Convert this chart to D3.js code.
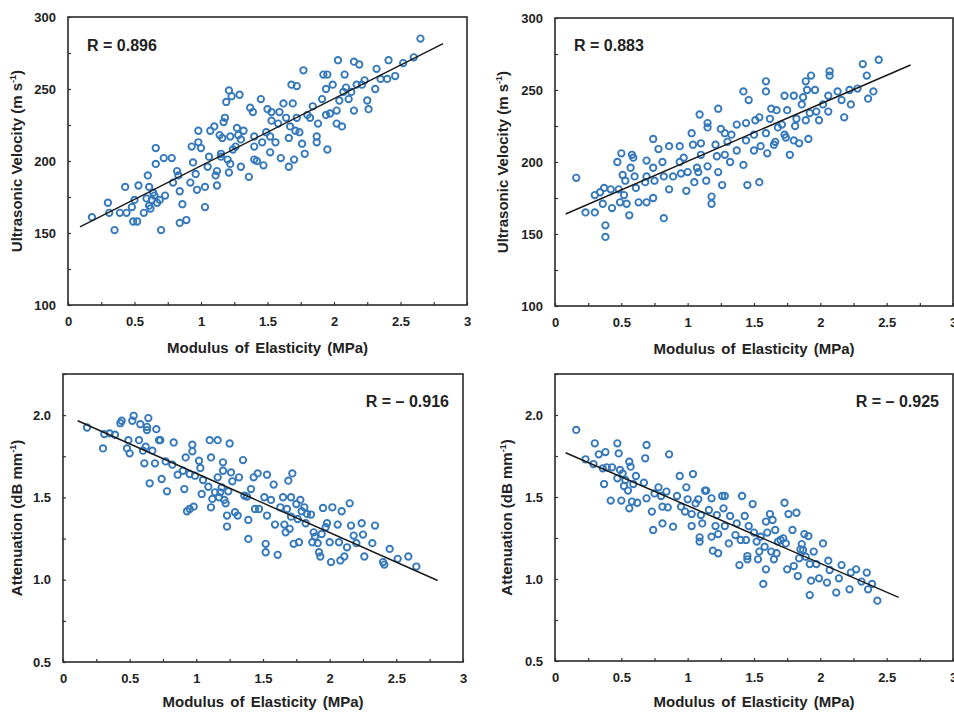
<!DOCTYPE html>
<html>
<head>
<meta charset="utf-8">
<script src="https://cdn.jsdelivr.net/npm/d3@7"></script>
<style>
body{margin:0;background:#fff}
text{font-family:"Liberation Sans",Arial,sans-serif;font-weight:bold;fill:#222}
</style>
</head>
<body>
<svg id="chart" width="954" height="712"></svg>
<script>
// tick labels
var modulusTicks=[0,0.5,1,1.5,2,2.5,3];
var velocityTicks=[100,150,200,250,300];
var attenTicks=[0.5,1.0,1.5,2.0];

// [modulus MPa, velocity m/s] - top left
var velA=[[0.18,161],[0.30,171],[0.31,164],[0.35,152],[0.39,164],[0.43,182],[0.44,164],[0.48,168],[0.49,158],[0.50,173],[0.52,158],[0.53,183],[0.57,164],[0.59,174],[0.60,190],[0.61,169],[0.61,182],[0.62,167],[0.63,173],[0.64,178],[0.65,176],[0.66,198],[0.66,209],[0.67,171],[0.69,173],[0.70,152],[0.72,202],[0.73,176],[0.78,202],[0.79,185],[0.82,193],[0.83,190],[0.84,179],[0.84,157],[0.86,170],[0.89,159],[0.92,185],[0.93,210],[0.94,199],[0.96,191],[0.97,180],[0.98,221],[0.98,213],[1.00,209],[1.03,182],[1.03,168],[1.05,196],[1.06,203],[1.07,221],[1.10,224],[1.11,190],[1.12,183],[1.12,193],[1.14,218],[1.15,205],[1.15,203],[1.16,216],[1.17,227],[1.18,230],[1.19,241],[1.20,201],[1.21,192],[1.21,249],[1.22,217],[1.22,198],[1.23,245],[1.24,208],[1.26,210],[1.27,223],[1.28,218],[1.29,246],[1.30,215],[1.30,196],[1.32,221],[1.36,189],[1.37,237],[1.39,234],[1.40,217],[1.40,210],[1.40,201],[1.42,200],[1.45,243],[1.46,213],[1.47,197],[1.49,220],[1.50,236],[1.52,206],[1.52,217],[1.53,234],[1.53,228],[1.56,213],[1.58,226],[1.59,234],[1.60,202],[1.62,240],[1.64,230],[1.66,196],[1.66,216],[1.67,224],[1.68,253],[1.69,240],[1.70,201],[1.71,221],[1.72,252],[1.72,230],[1.74,220],[1.76,212],[1.77,263],[1.78,205],[1.80,232],[1.82,230],[1.84,238],[1.87,217],[1.88,226],[1.87,213],[1.91,243],[1.92,260],[1.94,250],[1.94,232],[1.95,208],[1.95,260],[1.97,233],[1.99,253],[2.02,235],[2.02,226],[2.03,270],[2.04,242],[2.06,224],[2.07,248],[2.08,260],[2.09,251],[2.11,243],[2.13,248],[2.15,235],[2.15,269],[2.17,253],[2.19,267],[2.21,253],[2.23,256],[2.25,242],[2.26,236],[2.31,250],[2.32,264],[2.35,257],[2.40,257],[2.41,270],[2.46,259],[2.52,268],[2.60,272],[2.65,285]];

// top right
var velB=[[0.16,189],[0.23,165],[0.30,177],[0.30,165],[0.34,179],[0.36,171],[0.37,182],[0.38,156],[0.38,148],[0.42,181],[0.43,168],[0.47,200],[0.48,181],[0.49,172],[0.50,206],[0.51,191],[0.52,177],[0.53,187],[0.54,171],[0.56,163],[0.57,196],[0.58,205],[0.59,203],[0.60,190],[0.61,182],[0.63,172],[0.68,186],[0.69,201],[0.69,172],[0.69,190],[0.74,175],[0.74,216],[0.74,196],[0.75,187],[0.78,209],[0.81,200],[0.82,161],[0.82,190],[0.86,181],[0.86,211],[0.89,190],[0.94,211],[0.94,200],[0.95,192],[0.97,203],[0.99,180],[1.00,193],[1.03,220],[1.04,212],[1.05,186],[1.07,196],[1.08,193],[1.09,233],[1.10,213],[1.10,205],[1.14,187],[1.15,227],[1.15,224],[1.15,197],[1.18,176],[1.18,171],[1.21,212],[1.22,204],[1.23,193],[1.23,237],[1.25,223],[1.26,184],[1.28,220],[1.28,205],[1.30,214],[1.32,200],[1.33,219],[1.37,208],[1.37,226],[1.42,249],[1.42,198],[1.44,227],[1.44,215],[1.45,184],[1.46,243],[1.50,208],[1.50,219],[1.51,229],[1.54,231],[1.54,186],[1.55,211],[1.59,256],[1.59,220],[1.59,249],[1.60,206],[1.62,230],[1.63,237],[1.65,212],[1.66,214],[1.67,236],[1.68,224],[1.71,226],[1.73,246],[1.73,219],[1.74,217],[1.75,236],[1.77,205],[1.80,246],[1.80,215],[1.81,225],[1.82,230],[1.84,213],[1.86,240],[1.87,245],[1.89,256],[1.89,229],[1.90,250],[1.91,216],[1.92,234],[1.93,260],[1.96,250],[1.97,235],[1.99,229],[2.02,240],[2.06,235],[2.06,246],[2.07,263],[2.07,260],[2.13,249],[2.16,243],[2.18,231],[2.22,250],[2.23,240],[2.28,251],[2.32,268],[2.35,260],[2.36,244],[2.40,249],[2.44,271]];

// [modulus MPa, attenuation dB/mm] - bottom left
var attA=[[0.18,1.925],[0.30,1.798],[0.31,1.885],[0.35,1.889],[0.39,1.881],[0.43,1.951],[0.44,1.966],[0.48,1.798],[0.49,1.848],[0.50,1.768],[0.52,1.966],[0.53,1.996],[0.57,1.848],[0.58,1.945],[0.60,1.784],[0.61,1.707],[0.62,1.808],[0.63,1.929],[0.63,1.909],[0.64,1.982],[0.65,1.586],[0.67,1.784],[0.69,1.707],[0.70,1.915],[0.72,1.848],[0.73,1.848],[0.74,1.612],[0.77,1.719],[0.78,1.537],[0.82,1.699],[0.83,1.834],[0.86,1.638],[0.90,1.662],[0.91,1.551],[0.92,1.743],[0.93,1.416],[0.95,1.642],[0.95,1.430],[0.97,1.820],[0.97,1.780],[0.98,1.444],[0.99,1.632],[1.02,1.723],[1.03,1.679],[1.04,1.521],[1.05,1.606],[1.09,1.565],[1.10,1.848],[1.11,1.743],[1.11,1.440],[1.12,1.491],[1.14,1.531],[1.16,1.622],[1.16,1.848],[1.17,1.501],[1.18,1.531],[1.19,1.561],[1.20,1.662],[1.20,1.713],[1.21,1.485],[1.22,1.464],[1.23,1.390],[1.23,1.323],[1.24,1.537],[1.25,1.828],[1.26,1.652],[1.27,1.598],[1.29,1.410],[1.31,1.390],[1.32,1.622],[1.35,1.727],[1.36,1.511],[1.38,1.505],[1.39,1.248],[1.39,1.363],[1.41,1.551],[1.43,1.622],[1.44,1.430],[1.46,1.646],[1.47,1.430],[1.51,1.501],[1.52,1.218],[1.52,1.167],[1.53,1.638],[1.53,1.390],[1.56,1.485],[1.58,1.578],[1.59,1.335],[1.61,1.151],[1.63,1.440],[1.65,1.501],[1.66,1.335],[1.67,1.288],[1.68,1.430],[1.69,1.602],[1.70,1.309],[1.71,1.501],[1.71,1.383],[1.72,1.646],[1.73,1.218],[1.75,1.460],[1.76,1.369],[1.77,1.228],[1.78,1.485],[1.79,1.416],[1.81,1.440],[1.82,1.343],[1.83,1.400],[1.86,1.396],[1.87,1.228],[1.88,1.288],[1.89,1.262],[1.91,1.222],[1.92,1.167],[1.93,1.141],[1.94,1.278],[1.95,1.436],[1.97,1.319],[1.98,1.343],[2.00,1.228],[2.01,1.107],[2.02,1.440],[2.06,1.335],[2.07,1.228],[2.08,1.117],[2.09,1.416],[2.11,1.141],[2.13,1.197],[2.15,1.464],[2.16,1.329],[2.18,1.268],[2.20,1.222],[2.24,1.343],[2.25,1.274],[2.26,1.141],[2.32,1.222],[2.34,1.329],[2.40,1.107],[2.41,1.092],[2.45,1.187],[2.51,1.127],[2.59,1.141],[2.65,1.080]];

// bottom right
var attB=[[0.16,1.909],[0.23,1.730],[0.29,1.701],[0.30,1.827],[0.33,1.760],[0.36,1.675],[0.37,1.579],[0.38,1.774],[0.39,1.681],[0.42,1.478],[0.43,1.681],[0.47,1.827],[0.47,1.614],[0.48,1.766],[0.49,1.665],[0.50,1.478],[0.51,1.644],[0.52,1.567],[0.53,1.604],[0.55,1.539],[0.56,1.431],[0.56,1.715],[0.57,1.685],[0.58,1.472],[0.59,1.579],[0.61,1.628],[0.62,1.465],[0.67,1.587],[0.68,1.736],[0.69,1.492],[0.69,1.817],[0.73,1.411],[0.74,1.299],[0.75,1.522],[0.78,1.559],[0.80,1.506],[0.81,1.441],[0.81,1.339],[0.84,1.533],[0.85,1.437],[0.86,1.760],[0.89,1.319],[0.92,1.506],[0.94,1.628],[0.95,1.441],[0.98,1.411],[0.99,1.559],[1.00,1.486],[1.03,1.323],[1.03,1.396],[1.04,1.640],[1.06,1.461],[1.08,1.486],[1.09,1.254],[1.09,1.228],[1.10,1.390],[1.11,1.339],[1.13,1.539],[1.14,1.539],[1.16,1.421],[1.18,1.258],[1.18,1.492],[1.19,1.173],[1.21,1.323],[1.22,1.390],[1.23,1.157],[1.23,1.274],[1.26,1.506],[1.27,1.431],[1.28,1.506],[1.28,1.323],[1.31,1.217],[1.32,1.384],[1.36,1.268],[1.37,1.339],[1.39,1.085],[1.40,1.238],[1.41,1.506],[1.43,1.384],[1.44,1.238],[1.45,1.120],[1.45,1.140],[1.46,1.323],[1.49,1.457],[1.50,1.283],[1.52,1.228],[1.53,1.120],[1.54,1.167],[1.55,1.258],[1.57,0.970],[1.58,1.197],[1.59,1.059],[1.59,1.350],[1.60,1.283],[1.62,1.396],[1.63,1.167],[1.64,1.360],[1.65,1.120],[1.66,1.299],[1.67,1.157],[1.68,1.228],[1.70,1.238],[1.72,1.248],[1.73,1.465],[1.74,1.217],[1.75,1.059],[1.76,1.396],[1.79,1.299],[1.80,1.079],[1.82,1.404],[1.83,1.018],[1.84,1.126],[1.85,1.181],[1.86,1.213],[1.87,1.177],[1.88,1.274],[1.89,1.136],[1.91,1.262],[1.92,0.902],[1.92,1.091],[1.93,0.990],[1.95,1.167],[1.97,1.091],[1.99,1.004],[2.02,1.217],[2.05,0.978],[2.06,1.112],[2.07,1.055],[2.12,0.917],[2.14,1.004],[2.16,1.085],[2.22,0.937],[2.23,1.039],[2.27,1.059],[2.31,0.984],[2.35,1.039],[2.36,0.937],[2.39,0.970],[2.43,0.868]];

// regression line end points
var fitVelA=[[0.09,154.3],[2.82,281.5]];
var fitVelB=[[0.08,163.9],[2.68,267.4]];
var fitAttA=[[0.11,1.966],[2.81,0.995]];
var fitAttB=[[0.08,1.770],[2.59,0.888]];

var rLabels=["R = 0.896","R = 0.883","R = \u2013 0.916","R = \u2013 0.925"];

var svg=d3.select("#chart");
var blue="#3579bb";

var panels=[
  {pts:velA,fit:fitVelA,r:rLabels[0],rRight:false,rx:87,ry:45,left:68,right:467,top:17,bottom:305,
   yDom:[100,300],yTicks:velocityTicks,yStep:25,yFmt:d3.format("d"),title:"vel",tx:17,xtY:348},
  {pts:velB,fit:fitVelB,r:rLabels[1],rRight:false,rx:574,ry:45,left:555,right:953,top:18,bottom:306,
   yDom:[100,300],yTicks:velocityTicks,yStep:25,yFmt:d3.format("d"),title:"vel",tx:503,xtY:349},
  {pts:attA,fit:fitAttA,r:rLabels[2],rRight:true,rx:449,ry:401,left:63,right:463,top:374,bottom:662,
   yDom:[0.5,2.25],yTicks:attenTicks,yStep:0.25,yFmt:d3.format(".1f"),title:"att",tx:17,xtY:702},
  {pts:attB,fit:fitAttB,r:rLabels[3],rRight:true,rx:939,ry:401,left:555,right:953,top:374,bottom:661,
   yDom:[0.5,2.25],yTicks:attenTicks,yStep:0.25,yFmt:d3.format(".1f"),title:"att",tx:507,xtY:702}
];

var drawPanel=function(p){   // one scatter panel
  var x=d3.scaleLinear().domain([0,3]).range([p.left,p.right]),
      y=d3.scaleLinear().domain(p.yDom).range([p.bottom,p.top]);
  var g=svg.append("g");

  var xAll=d3.range(0,3.001,0.25),
      yAll=d3.range(p.yDom[0],p.yDom[1]+p.yStep/2,p.yStep);

  var xa=g.append("g").attr("transform","translate(0,"+p.bottom+")")
    .call(d3.axisBottom(x).tickValues(xAll).tickSizeInner(-3).tickSizeOuter(0).tickPadding(12)
      .tickFormat(function(d){return modulusTicks.indexOf(d)>=0?String(d):"";}));
  var ya=g.append("g").attr("transform","translate("+p.left+",0)")
    .call(d3.axisLeft(y).tickValues(yAll).tickSizeInner(-3).tickSizeOuter(0).tickPadding(12)
      .tickFormat(function(d){return p.yTicks.some(function(t){return Math.abs(t-d)<1e-9;})?p.yFmt(d):"";}));
  [xa,ya].forEach(function(a){
    a.select(".domain").remove();
    a.selectAll(".tick line").attr("stroke","#333").attr("stroke-width",1.2);
    a.selectAll(".tick text").attr("font-size",13).attr("fill","#222")
      .attr("font-family","Liberation Sans, Arial, sans-serif").attr("font-weight","bold");
  });

  g.append("rect").attr("x",p.left).attr("y",p.top)
    .attr("width",p.right-p.left).attr("height",p.bottom-p.top)
    .attr("fill","none").attr("stroke","#2a2a2a").attr("stroke-width",1.6);

  g.selectAll("circle").data(p.pts).enter().append("circle")
    .attr("cx",function(d){return x(d[0]);})
    .attr("cy",function(d){return y(d[1]);})
    .attr("r",3.2).attr("fill","none").attr("stroke",blue).attr("stroke-width",1.9);

  g.append("path").datum(p.fit)
    .attr("d",d3.line().x(function(d){return x(d[0]);}).y(function(d){return y(d[1]);}))
    .attr("stroke","#1a1a1a").attr("stroke-width",1.5).attr("fill","none");

  g.append("text").attr("x",p.rx).attr("y",p.ry).attr("dy","0.35em")
    .attr("text-anchor",p.rRight?"end":"start").attr("font-size",16).text(p.r);

  g.append("text").attr("x",(p.left+p.right)/2).attr("y",p.xtY).attr("dy","0.35em")
    .attr("text-anchor","middle").attr("font-size",15).attr("word-spacing","2px")
    .text("Modulus of Elasticity (MPa)");

  var cy=(p.top+p.bottom)/2,
      yt=g.append("text").attr("transform","translate("+p.tx+","+cy+") rotate(-90)")
        .attr("text-anchor","middle").attr("dy","0.35em").attr("font-size",15);
  yt.append("tspan").text(p.title==="vel"?"Ultrasonic Velocity (m s":"Attenuation (dB mm");
  yt.append("tspan").attr("font-size",9).attr("dy",-6).text("-1");
  yt.append("tspan").attr("dy",6).text(")");
};

panels.forEach(drawPanel);
</script>
</body>
</html>
